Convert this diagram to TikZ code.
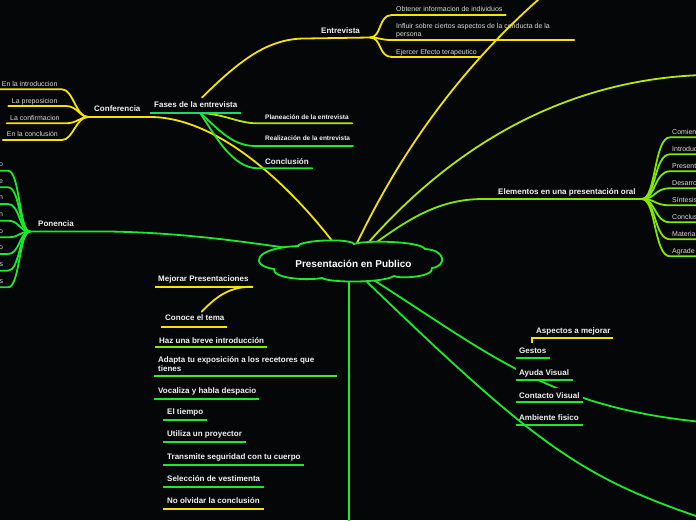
\documentclass[tikz,border=0pt]{standalone}
\usepackage{fontspec}
\setmainfont{Liberation Sans}
\definecolor{bg}{HTML}{050608}
\definecolor{yel}{HTML}{F5E400}
\definecolor{grn}{HTML}{1BEA2B}
\definecolor{limeg}{HTML}{7FEA00}
\definecolor{chart}{HTML}{B5EA00}
\definecolor{tealg}{HTML}{18DB6E}
\definecolor{txtw}{HTML}{F2F2F2}
\definecolor{txtg}{HTML}{DADADA}
\tikzset{
  conn/.style={line width=1.8pt, line cap=round},
  uline/.style={line width=1.8pt},
  bigl/.style={font=\fontsize{8}{9.6}\selectfont\bfseries, text=txtw, inner sep=0pt, anchor=base west, yshift=-2.9pt},
  smalll/.style={font=\fontsize{7}{8.3}\selectfont, text=txtg, inner sep=0pt, anchor=base west, yshift=-2.5pt},
  midl/.style={font=\fontsize{6.5}{8}\selectfont\bfseries, text=txtw, inner sep=0pt, anchor=base west, yshift=-2.3pt},
}
\begin{document}
\begin{tikzpicture}[x=1pt,y=-1pt]
\path[use as bounding box, fill=bg] (0,0) rectangle (696,520);
\clip (0,0) rectangle (696,520);

% ---------- anchor points on the central cloud ----------
\coordinate (cConf) at (333,242);
\coordinate (cTop) at (357,243);
\coordinate (cUR) at (368,243);
\coordinate (cElem) at (374,244);
\coordinate (cPon) at (296,249);
\coordinate (cAyu) at (372,279);
\coordinate (cAmb) at (365,280);
\coordinate (cDown) at (349,281);

% ---------- Conferencia ----------
\coordinate (jConf) at (88,117);
\coordinate (confH) at (150,117);
\draw[conn,yel] (cConf) .. controls (285,180) and (215,117) .. (confH) -- (jConf);
\foreach \y/\xs/\xe in {89.3/-2/62, 106/8.3/66, 123.3/6.7/66, 140/2.7/62}{
  \draw[conn,yel] (jConf) .. controls ({\xe+14},117) and ({\xe+11},\y) .. (\xe,\y) -- (\xs,\y);
}
\node[smalll] (cf1) at (1.7,84) {En la introduccion};
\node[smalll] (cf2) at (11.7,100.7) {La preposicion};
\node[smalll] (cf3) at (10,117.7) {La confirmacion};
\node[smalll] (cf4) at (6.7,134.3) {En la conclusión};
\node[bigl] (conf) at (94,108.3) {Conferencia};

% ---------- Fases de la entrevista ----------
\coordinate (jFas) at (200,113);
\coordinate (fasTop) at (202,97.5);
\draw[conn,chart] (jFas) .. controls (225,114) and (238,123.3) .. (257,123.3) -- (352.3,123.3);
\draw[conn,grn] (jFas) .. controls (215,125) and (230,146) .. (255,146) -- (353,146);
\draw[conn,grn] (jFas) .. controls (215,135) and (232,168.3) .. (258,168.3) -- (312.3,168.3);
\draw[uline,tealg] (150,113) -- (241,113);
\node[bigl] (fases) at (154,104.3) {Fases de la entrevista};
\node[midl] (plan) at (265,116.7) {Planeación de la entrevista};
\node[midl] (real) at (265,138.5) {Realización de la entrevista};
\node[bigl] (concl) at (265,161.5) {Conclusión};

% ---------- Entrevista ----------
\coordinate (entL) at (305,38.5);
\coordinate (jEnt) at (370,37.5);
\draw[conn,yel] (fasTop) .. controls (240,60) and (268,38.5) .. (entL) -- (jEnt);
\draw[conn,yel] (jEnt) .. controls (382,37.5) and (378,15) .. (392,15) -- (505.7,15);
\draw[conn,yel] (jEnt) .. controls (380,37.5) and (380,40) .. (392,40) -- (574.3,40);
\draw[conn,yel] (jEnt) .. controls (382,37.5) and (378,57) .. (392,57) -- (480,57);
\node[bigl] (entr) at (321,30.7) {Entrevista};
\node[smalll] (e1) at (396,9.3) {Obtener informacion de individuos};
\node[smalll] (e2) at (396,26) {Influir sobre ciertos aspectos de la conducta de la};
\node[smalll] (e2b) at (396,34.3) {persona};
\node[smalll] (e3) at (396,51.5) {Ejercer Efecto terapeutico};

% ---------- Ponencia ----------
\coordinate (jPon) at (30,231.5);
\coordinate (ponH) at (110,231.5);
\draw[conn,grn] (jPon) -- (ponH) .. controls (190,233) and (250,243) .. (cPon);
\foreach \y/\l [count=\i] in {170.7/o, 187.3/e, 204/n, 220.7/n, 237.3/o, 254/o, 270.7/s, 287.3/s}{
  \draw[conn,grn] (jPon) .. controls (19,231.5) and (20,\y) .. (8,\y) -- (-3,\y);
  \node[smalll, anchor=base east] (p\i) at (3.2,{\y-6.7}) {\l};
}
\node[bigl] (pon) at (38,224) {Ponencia};

% ---------- Elementos en una presentación oral ----------
\coordinate (elH) at (483,199);
\coordinate (jEl) at (642,199);
\draw[conn,limeg] (cElem) .. controls (410,218) and (440,199) .. (elH) -- (jEl);
\foreach \y/\t [count=\i] in {137.3/Comien, 154.3/Introduc, 171.3/Present, 188.3/Desarro, 205.3/Síntesis, 222.3/Conclus, 239.3/Materia, 256.3/Agrade}{
  \draw[conn,limeg] (jEl) .. controls (656,199) and (654,\y) .. (670,\y) -- (702,\y);
  \node[smalll] (el\i) at (672,{\y-5.6}) {\t};
}
\node[bigl] (elem) at (498,191.7) {Elementos en una presentación oral};

% ---------- long connectors leaving the picture ----------
\coordinate (urEnd) at (702,75);
\draw[conn,chart] (cUR) .. controls (450,150) and (560,80) .. (urEnd);
\coordinate (topEnd) at (547,-8);
\draw[conn,yel] (cTop) .. controls (390,175) and (445,80) .. (topEnd);
\coordinate (lrEnd) at (702,422);
\draw[conn,grn] (cAyu) .. controls (492,355.6) and (550,407) .. (lrEnd);
\coordinate (lr2End) at (702,518);
\draw[conn,grn] (cAmb) .. controls (535,444) and (580,477) .. (lr2End);
\coordinate (downEnd) at (349,526);
\draw[conn,grn] (cDown) -- (downEnd);

% ---------- central cloud ----------
\draw[grn, line width=1.8pt, fill=bg]
  (274,269) .. controls (250,266) and (252,248) .. (298,246)
  .. controls (300,240) and (350,238) .. (354,244)
  .. controls (365,240) and (420,241) .. (425,249)
  .. controls (446,250) and (447,266) .. (432,268)
  .. controls (434,277) and (400,279) .. (394,276)
  .. controls (383,283) and (330,283) .. (322,278)
  .. controls (305,281) and (272,278) .. cycle;
\node[font=\fontsize{10}{12}\selectfont\bfseries, text=white, inner sep=0pt] (center) at (353.4,264) {Presentación en Publico};

% ---------- lower right group ----------
\node[bigl] (asp) at (536,330.7) {Aspectos a mejorar};
\draw[uline,yel] (532,343) -- (532,338.3) -- (613,338.3);
\node[bigl] (gest) at (519,350.7) {Gestos};
\draw[uline,grn] (515.7,357.7) -- (550,357.7);
\fill[bg] (515.7,364) rectangle (572.7,379.5);
\node[bigl] (ayu) at (519,372.7) {Ayuda Visual};
\draw[uline,grn] (515.7,380) -- (572.7,380);
\fill[bg] (515.7,388.3) rectangle (582.7,402);
\node[bigl] (cont) at (519,395.3) {Contacto Visual};
\draw[uline,grn] (515.7,402.3) -- (582.7,402.3);
\node[bigl] (amb) at (519,417.7) {Ambiente fisico};
\draw[uline,grn] (515.7,425) -- (582.7,425);

% ---------- lower left list ----------
\node[bigl] (mej) at (158,279) {Mejorar Presentaciones};
\draw[uline,yel] (155,286.7) -- (252.7,286.7);
\coordinate (mejEnd) at (252,286.7);
\coordinate (conTop) at (201.7,311.7);
\draw[conn,yel] (conTop) .. controls (215,298) and (228,286.7) .. (mejEnd);
\node[bigl] (con) at (165,318) {Conoce el tema};
\draw[uline,yel] (160.7,326.7) -- (227,326.7);
\node[bigl] (haz) at (159,340.7) {Haz una breve introducción};
\draw[uline,limeg] (155,347.3) -- (267,347.3);
\node[bigl] (ada) at (158,359.7) {Adapta tu exposición a los recetores que};
\node[bigl] (ada2) at (158,368.7) {tienes};
\draw[uline,grn!55!limeg] (154,376) -- (336.7,376);
\node[bigl] (voc) at (158,390.7) {Vocaliza y habla despacio};
\draw[uline,grn] (154,398.7) -- (259.3,398.7);
\node[bigl] (tie) at (167,412) {El tiempo};
\draw[uline,grn] (163,420) -- (206.7,420);
\node[bigl] (uti) at (167,434) {Utiliza un proyector};
\draw[uline,grn] (163,442) -- (246,442);
\node[bigl] (tra) at (167,457) {Transmite seguridad con tu cuerpo};
\draw[uline,grn] (163,464.7) -- (304,464.7);
\node[bigl] (sel) at (167,479) {Selección de vestimenta};
\draw[uline,grn] (163,487) -- (264,487);
\node[bigl] (olv) at (167,501) {No olvidar la conclusión};
\draw[uline,yel] (163,509) -- (264,509);
\end{tikzpicture}
\end{document}
